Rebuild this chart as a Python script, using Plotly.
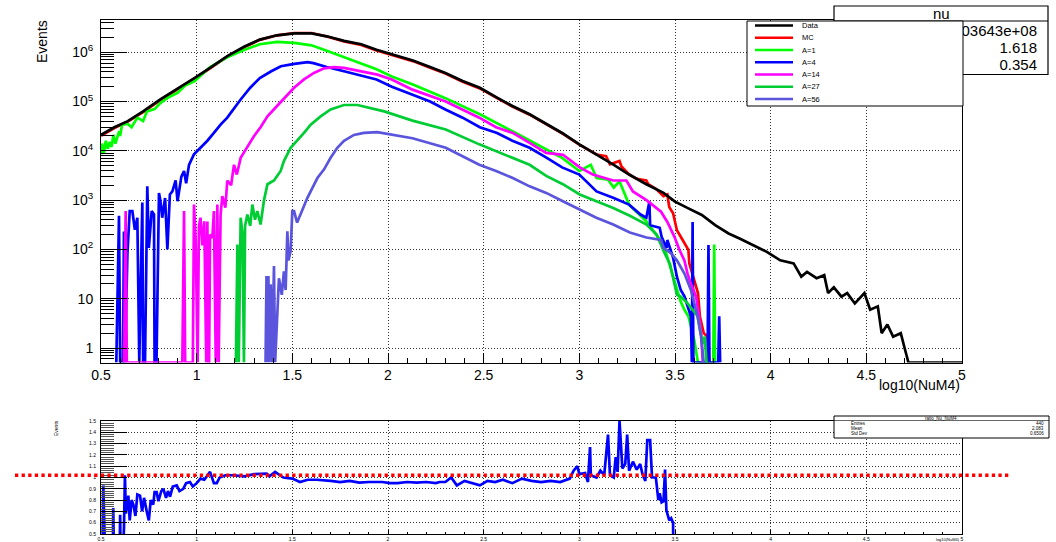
import math
import plotly.graph_objects as go

W, H = 1056, 542
FONT = "Liberation Sans, Arial, sans-serif"

# ---------------- upper pad: Events per bin of log10(NuM4) ----------------
x_data = [0.50, 0.57, 0.64, 0.72, 0.81, 0.90, 0.99, 1.07, 1.16, 1.25, 1.33, 1.42, 1.51,
          1.60, 1.68, 1.77, 1.86, 1.94, 2.04, 2.13, 2.22, 2.30, 2.39, 2.48, 2.57, 2.65,
          2.74, 2.83, 2.91, 3.00, 3.09, 3.18, 3.26, 3.35, 3.44, 3.50, 3.57, 3.64, 3.71,
          3.78, 3.84, 3.91, 3.98, 4.05, 4.12, 4.16, 4.19, 4.24, 4.28, 4.30, 4.33, 4.37,
          4.40, 4.44, 4.49, 4.52, 4.56, 4.58, 4.61, 4.64, 4.68, 4.70, 4.72, 5.00]
n_data = [2.1e4, 3.0e4, 4.0e4, 6.3e4, 1.1e5, 1.8e5, 3.0e5, 4.8e5, 8.3e5, 1.3e6, 1.8e6, 2.2e6, 2.4e6,
          2.4e6, 2.1e6, 1.7e6, 1.45e6, 1.12e6, 8.7e5, 6.8e5, 5.0e5, 3.8e5, 2.6e5, 1.9e5, 1.2e5, 8.1e4,
          5.5e4, 3.4e4, 2.3e4, 1.35e4, 8.5e3, 5.2e3, 3.3e3, 2.1e3, 1.4e3, 930, 680, 500, 310,
          210, 165, 123, 89, 60, 52, 28, 35, 26, 30, 13, 17, 11,
          13, 8, 13, 6, 7, 2, 3, 1.7, 2, 1, 0, 0]

x_mc = [0.50, 0.57, 0.64, 0.72, 0.81, 0.90, 0.99, 1.07, 1.16, 1.25, 1.33, 1.42, 1.51, 1.60,
        1.68, 1.77, 1.86, 1.94, 2.04, 2.13, 2.22, 2.30, 2.39, 2.48, 2.57, 2.65, 2.74, 2.83,
        2.91, 3.00, 3.09, 3.14, 3.16, 3.21, 3.22, 3.26, 3.30, 3.35, 3.36, 3.40, 3.44, 3.46,
        3.47, 3.49, 3.51, 3.54, 3.57, 3.575, 3.60, 3.62, 3.63, 3.65, 3.67, 3.68]
n_mc = [2.0e4, 2.9e4, 3.9e4, 6.1e4, 1.07e5, 1.75e5, 2.9e5, 4.7e5, 8.1e5, 1.27e6, 1.78e6, 2.2e6, 2.45e6, 2.45e6,
        2.08e6, 1.66e6, 1.4e6, 1.08e6, 8.4e5, 6.6e5, 4.85e5, 3.7e5, 2.52e5, 1.84e5, 1.17e5, 7.9e4, 5.4e4, 3.35e4,
        2.25e4, 1.33e4, 8.4e3, 7.8e3, 5.3e3, 6.2e3, 4.8e3, 3.3e3, 2.7e3, 2.5e3, 2.1e3, 1.7e3, 1.2e3, 1.3e3,
        720, 540, 245, 155, 98, 52, 25, 13, 4.4, 2, 1.7, 0]

x_a1 = [0.500, 0.505, 0.515, 0.525, 0.535, 0.545, 0.555, 0.565, 0.575, 0.585, 0.595, 0.600,
        0.61, 0.64, 0.66, 0.69, 0.72, 0.74, 0.78, 0.81, 0.85, 0.90, 0.94, 0.99, 1.07, 1.16,
        1.25, 1.33, 1.42, 1.51, 1.60, 1.68, 1.77, 1.86, 1.94, 2.02, 2.13, 2.30, 2.48, 2.65,
        2.83, 2.91, 3.00, 3.06, 3.09, 3.15, 3.18, 3.21, 3.26, 3.35, 3.44, 3.47, 3.51, 3.53,
        3.55, 3.57, 3.60, 3.62, 3.70, 3.705, 3.71]
n_a1 = [8.5e3, 1.4e4, 9e3, 1.6e4, 1.1e4, 1.5e4, 1.2e4, 2.1e4, 1.4e4, 1.9e4, 2.5e4, 2.0e4,
        3.4e4, 3.5e4, 3.0e4, 4.7e4, 4.0e4, 6.3e4, 7.0e4, 9.3e4, 1.2e5, 1.5e5, 2.1e5, 2.6e5, 5.0e5, 7.9e5,
        1.12e6, 1.45e6, 1.62e6, 1.55e6, 1.38e6, 1.07e6, 7.9e5, 6.0e5, 4.5e5, 3.2e5, 2.2e5, 1.17e5, 5.5e4, 2.5e4,
        1.07e4, 7.2e3, 3.9e3, 5.2e3, 2.8e3, 2.6e3, 1.8e3, 2.4e3, 810, 370, 126, 50, 14.5, 8.7,
        5.9, 4.4, 1.5, 0, 0, 126, 0]

x_a4 = [0.58, 0.594, 0.60, 0.615, 0.62, 0.625, 0.638, 0.65, 0.664, 0.677, 0.69, 0.70, 0.716,
        0.72, 0.73, 0.742, 0.75, 0.765, 0.777, 0.78, 0.79, 0.803, 0.81, 0.82, 0.835, 0.847,
        0.86, 0.873, 0.89, 0.90, 0.92, 0.934, 0.945, 0.96, 0.986, 1.02, 1.056, 1.09, 1.125,
        1.16, 1.195, 1.23, 1.28, 1.33, 1.39, 1.44, 1.51, 1.58, 1.61, 1.68, 1.77, 1.86, 1.94,
        2.02, 2.13, 2.22, 2.30, 2.39, 2.48, 2.57, 2.65, 2.74, 2.83, 2.91, 3.00, 3.09, 3.18,
        3.26, 3.32, 3.35, 3.366, 3.37, 3.42, 3.43, 3.456, 3.46, 3.49, 3.51, 3.53, 3.55, 3.566,
        3.583, 3.588, 3.592, 3.596, 3.67, 3.675, 3.68, 3.726, 3.731, 3.736]
n_a4 = [0, 480, 0, 0, 230, 0, 80, 600, 600, 250, 440, 0, 890,
        0, 0, 1.9e3, 107, 600, 510, 0, 0, 1.4e3, 1.0e3, 440, 1.1e3, 100,
        1.3e3, 1.5e3, 2.5e3, 950, 3.0e3, 3.9e3, 2.2e3, 5.2e3, 8.5e3, 1.15e4, 1.6e4, 2.3e4, 3.4e4,
        4.7e4, 7.4e4, 1.1e5, 1.9e5, 3.0e5, 4.1e5, 5.2e5, 5.8e5, 6.3e5, 6.0e5, 5.0e5, 4.1e5, 3.4e5, 2.8e5,
        2.0e5, 1.38e5, 1.0e5, 6.9e4, 4.7e4, 3.0e4, 2.3e4, 1.6e4, 1.15e4, 7.2e3, 4.6e3, 3.3e3, 1.5e3, 1.1e3,
        810, 510, 440, 930, 310, 275, 180, 107, 155, 68, 28, 15, 11, 7,
        4.4, 0, 360, 0, 0, 123, 0, 0, 4.4, 0]

x_a14 = [0.62, 0.629, 0.635, 0.925, 0.934, 0.94, 0.98, 0.986, 0.995, 1.005, 1.012, 1.02,
         1.03, 1.04, 1.05, 1.056, 1.06, 1.065, 1.07, 1.082, 1.09, 1.10, 1.108, 1.115, 1.125,
         1.134, 1.15, 1.16, 1.18, 1.195, 1.21, 1.23, 1.265, 1.30, 1.334, 1.37, 1.42, 1.474,
         1.509, 1.561, 1.613, 1.666, 1.718, 1.77, 1.857, 1.944, 2.02, 2.128, 2.302, 2.477,
         2.565, 2.652, 2.74, 2.827, 2.914, 3.002, 3.07, 3.177, 3.246, 3.28, 3.351, 3.427,
         3.46, 3.497, 3.523, 3.549, 3.566, 3.583, 3.61, 3.627, 3.636, 3.645]
n_a14 = [0, 600, 0, 0, 600, 0, 0, 810, 150, 0, 300, 440,
         120, 370, 0, 370, 0, 0, 200, 170, 600, 0, 810, 0, 500,
         1.2e3, 700, 2.5e3, 2.0e3, 5.2e3, 3.3e3, 7.2e3, 1.2e4, 2.0e4, 3.0e4, 5.0e4, 8.1e4, 1.4e5,
         1.9e5, 2.8e5, 3.8e5, 4.7e5, 5.0e5, 4.8e5, 4.1e5, 3.5e5, 2.8e5, 1.74e5, 1.0e5, 4.7e4,
         3.0e4, 2.3e4, 1.45e4, 9.1e3, 8.3e3, 4.6e3, 3.3e3, 2.5e3, 2.5e3, 1.5e3, 1.0e3, 580,
         360, 180, 98, 60, 32, 20, 11, 4.4, 2.3, 0]

x_a27 = [1.205, 1.213, 1.22, 1.23, 1.24, 1.247, 1.253, 1.265, 1.28, 1.291, 1.305, 1.317,
         1.334, 1.352, 1.37, 1.404, 1.439, 1.456, 1.491, 1.526, 1.561, 1.596, 1.648, 1.70,
         1.77, 1.84, 1.91, 1.98, 2.128, 2.302, 2.477, 2.652, 2.74, 2.827, 2.914, 3.002, 3.089,
         3.177, 3.264, 3.351, 3.404, 3.44, 3.474, 3.51, 3.53, 3.566, 3.618, 3.636, 3.645,
         3.655, 3.665]
n_a27 = [0, 126, 0, 440, 200, 0, 300, 510, 300, 810, 400, 600,
         320, 1.0e3, 2.1e3, 2.5e3, 3.9e3, 6.2e3, 1.15e4, 1.6e4, 2.3e4, 3.4e4, 5.0e4, 6.9e4,
         8.5e4, 8.5e4, 7.4e4, 6.3e4, 4.1e4, 2.7e4, 1.35e4, 7.2e3, 5.2e3, 3.1e3, 2.1e3, 1.3e3, 950,
         690, 480, 320, 200, 93, 50, 12, 11, 8, 4.4, 1.7, 1.2,
         1.7, 0]

x_a56 = [1.36, 1.365, 1.37, 1.375, 1.38, 1.387, 1.395, 1.404, 1.41, 1.43, 1.445, 1.456,
         1.465, 1.474, 1.48, 1.491, 1.50, 1.509, 1.525, 1.544, 1.561, 1.578, 1.605, 1.631,
         1.666, 1.70, 1.735, 1.77, 1.822, 1.874, 1.944, 2.02, 2.128, 2.302, 2.477, 2.565,
         2.652, 2.74, 2.827, 2.914, 3.002, 3.089, 3.177, 3.264, 3.351, 3.427, 3.44, 3.48,
         3.51, 3.55, 3.583, 3.618, 3.636, 3.65]
n_a56 = [0, 29, 0, 29, 0, 19.5, 0, 46, 0, 26, 12, 36,
         15, 234, 60, 93, 600, 600, 350, 510, 760, 1.1e3, 1.8e3, 2.8e3,
         4.2e3, 7.2e3, 1.15e4, 1.6e4, 2.1e4, 2.3e4, 2.4e4, 2.1e4, 1.8e4, 1.15e4, 5.2e3, 3.9e3,
         2.8e3, 1.9e3, 1.4e3, 950, 650, 440, 320, 220, 174, 155, 107, 83,
         60, 32, 15, 4.4, 1.7, 0]

# ---------------- lower pad: ratio histogram ----------------
x_ratio = [0.505, 0.512, 0.518, 0.525, 0.56, 0.564, 0.57, 0.595, 0.60, 0.605, 0.62, 0.625,
           0.63, 0.643, 0.65, 0.66, 0.669, 0.68, 0.69, 0.704, 0.715, 0.725, 0.739, 0.75,
           0.76, 0.773, 0.78, 0.791, 0.80, 0.815, 0.826, 0.84, 0.85, 0.861, 0.875, 0.896,
           0.91, 0.93, 0.945, 0.965, 0.98, 1.00, 1.02, 1.04, 1.07, 1.09, 1.105, 1.12, 1.15,
           1.19, 1.25, 1.30, 1.366, 1.38, 1.41, 1.453, 1.50, 1.54, 1.58, 1.627, 1.70, 1.75,
           1.80, 1.85, 1.90, 1.97, 2.01, 2.05, 2.10, 2.15, 2.20, 2.25, 2.27, 2.30, 2.33, 2.36,
           2.40, 2.44, 2.48, 2.52, 2.56, 2.60, 2.65, 2.70, 2.75, 2.80, 2.85, 2.90, 2.95, 2.97,
           2.99, 3.00, 3.03, 3.045, 3.056, 3.06, 3.09, 3.11, 3.13, 3.15, 3.16, 3.18, 3.19,
           3.20, 3.21, 3.225, 3.24, 3.25, 3.26, 3.28, 3.30, 3.318, 3.33, 3.345, 3.355, 3.37,
           3.38, 3.40, 3.413, 3.42, 3.43, 3.44, 3.448, 3.455, 3.47, 3.48, 3.49, 3.492]
r_ratio = [0, 0.93, 0.55, 0, 0, 0.73, 0, 0, 0.67, 0, 0.55, 1.02,
           0.68, 0.84, 0.62, 0.80, 0.76, 0.66, 0.85, 0.84, 0.70, 0.82, 0.70, 0.62,
           0.80, 0.76, 0.87, 0.87, 0.79, 0.88, 0.90, 0.82, 0.88, 0.83, 0.92, 0.93,
           0.88, 0.90, 0.95, 0.96, 0.92, 0.95, 0.99, 0.98, 1.05, 0.95, 0.95, 1.00, 1.02,
           1.02, 1.01, 1.03, 1.035, 1.01, 1.05, 1.00, 0.99, 0.96, 0.98, 0.98, 0.97, 0.96,
           0.97, 0.955, 0.96, 0.96, 0.95, 0.95, 0.96, 0.955, 0.96, 0.95, 0.96, 0.96, 1.00, 0.93,
           0.97, 0.95, 0.93, 0.97, 0.96, 0.98, 0.95, 0.99, 0.97, 0.96, 0.97, 0.96, 0.99, 1.06,
           1.10, 1.03, 1.04, 0.96, 1.27, 1.02, 1.00, 1.06, 1.02, 1.38, 1.02, 1.00, 1.18,
           1.05, 1.50, 1.08, 1.12, 1.38, 1.06, 1.14, 1.07, 1.12, 1.03, 0.97, 1.33, 1.33,
           1.00, 1.00, 0.80, 0.86, 0.78, 0.79, 1.07, 0.71, 0.62, 0.64, 0.60, 0]
RATIO_REF = 1.02

# ---------------- labels ----------------
legend_names = ["Data", "MC", "A=1", "A=4", "A=14", "A=27", "A=56"]
legend_colors = ["#000000", "#ff0000", "#00ff00", "#0000ff", "#ff00ff", "#00cc33", "#5a55dc"]
stats_main_title = "nu"
stats_main_rows = [("Entries", "1.03643e+08"), ("Mean", "1.618"), ("Std Dev", "0.354")]
stats_ratio_title = "ratio_Nu_NuM4"
stats_ratio_rows = [("Entries", "440"), ("Mean", "2.083"), ("Std Dev", "0.6506")]
x_title = "log10(NuM4)"
y_title = "Events"

LOG_YMIN, LOG_YMAX = -0.294, 6.653
Y_FLOOR = 10 ** LOG_YMIN  # empty bins sit on the frame bottom

# pad geometry in pixels
PX_L, PX_R = 101, 962
TOP_T, TOP_B = 20, 362.5
BOT_T, BOT_B = 421, 534


def px2paper_x(px):
    return px / W


def px2paper_y(py):
    return 1 - py / H


fig = go.Figure()

series = {
    "MC": (x_mc, n_mc),
    "A=1": (x_a1, n_a1),
    "A=4": (x_a4, n_a4),
    "A=14": (x_a14, n_a14),
    "A=27": (x_a27, n_a27),
    "A=56": (x_a56, n_a56),
    "Data": (x_data, n_data),
}
color_of = dict(zip(legend_names, legend_colors))
for name, (xs, ns) in series.items():
    fig.add_trace(go.Scatter(
        x=xs, y=[v if v > 0 else Y_FLOOR for v in ns], mode="lines", name=name,
        line=dict(color=color_of[name], width=2.7), xaxis="x", yaxis="y",
        showlegend=False, hoverinfo="skip"))

fig.add_trace(go.Scatter(
    x=x_ratio, y=r_ratio, mode="lines", line=dict(color="#0000ff", width=2.7),
    xaxis="x2", yaxis="y2", showlegend=False, hoverinfo="skip"))

# stats box text of the upper pad (sits under the legend box)
st_y = [32, 49, 66]
fig.add_trace(go.Scatter(
    x=[1037] * 3, y=st_y, text=[r[1] for r in stats_main_rows], mode="text",
    textposition="middle left", textfont=dict(family=FONT, size=15, color="black"),
    xaxis="x3", yaxis="y3", cliponaxis=False, showlegend=False, hoverinfo="skip"))
fig.add_trace(go.Scatter(
    x=[842] * 3, y=st_y, text=[r[0] for r in stats_main_rows], mode="text",
    textposition="middle right", textfont=dict(family=FONT, size=15, color="black"),
    xaxis="x3", yaxis="y3", cliponaxis=False, showlegend=False, hoverinfo="skip"))

major_y = [1, 10, 1e2, 1e3, 1e4, 1e5, 1e6]
major_y_text = ["1", "10", "10<sup>2</sup>", "10<sup>3</sup>", "10<sup>4</sup>",
                "10<sup>5</sup>", "10<sup>6</sup>"]
minor_y = [k * 10 ** e for e in range(-1, 7) for k in range(2, 10)
           if LOG_YMIN < e + math.log10(k) < LOG_YMAX]

dom_x = [px2paper_x(PX_L), px2paper_x(PX_R)]
grid = dict(showgrid=True, gridcolor="#333333", griddash="1px,2px", gridwidth=1)
frame = dict(showline=True, linecolor="black", linewidth=1, mirror=True, zeroline=False,
             tickcolor="black", ticks="inside", automargin=False)

fig.update_layout(
    template="none",
    width=W, height=H, margin=dict(l=0, r=0, t=0, b=0, pad=0, autoexpand=False),
    paper_bgcolor="white", plot_bgcolor="rgba(0,0,0,0)",
    font=dict(family=FONT, color="black"),
    xaxis=dict(domain=dom_x, anchor="y", range=[0.5, 5], tickmode="linear", tick0=0.5, dtick=0.5,
               ticklen=10, tickfont=dict(size=14), **frame, **grid,
               minor=dict(tick0=0.5, dtick=0.1, ticks="inside", ticklen=5, tickcolor="black",
                          showgrid=False)),
    yaxis=dict(domain=[px2paper_y(TOP_B), px2paper_y(TOP_T)], anchor="x", type="log",
               range=[LOG_YMIN, LOG_YMAX], tickmode="array", tickvals=major_y, ticktext=major_y_text,
               ticklen=26, tickfont=dict(size=14), ticklabelstandoff=4, **frame, **grid,
               minor=dict(tickmode="array", tickvals=minor_y, ticks="inside", ticklen=13,
                          tickcolor="black", showgrid=False)),
    xaxis2=dict(domain=dom_x, anchor="y2", range=[0.5, 5], tickmode="linear", tick0=0.5, dtick=0.5,
                ticklen=4, tickfont=dict(size=5), **frame, **grid,
                minor=dict(tick0=0.5, dtick=0.1, ticks="inside", ticklen=2, tickcolor="black",
                           showgrid=False)),
    yaxis2=dict(domain=[px2paper_y(BOT_B), px2paper_y(BOT_T)], anchor="x2", range=[0.5, 1.5],
                tickmode="linear", tick0=0.5, dtick=0.1, ticklen=26, tickfont=dict(size=5),
                ticklabelstandoff=3, **frame, **grid,
                minor=dict(tick0=0.5, dtick=0.02, ticks="inside", ticklen=13, tickcolor="#555555",
                           showgrid=False)),
    xaxis3=dict(domain=[0, 1], range=[0, W], visible=False, fixedrange=True, anchor="y3",
                automargin=False),
    yaxis3=dict(domain=[0, 1], range=[H, 0], visible=False, fixedrange=True, anchor="x3",
                automargin=False),
)

shapes = []
ann = []
# upper stats box
shapes.append(dict(type="rect", xref="x3", yref="y3", x0=834, x1=1048, y0=6, y1=74.5,
                   line=dict(color="black", width=1.2), fillcolor="white", layer="below"))
shapes.append(dict(type="line", xref="x3", yref="y3", x0=834, x1=1048, y0=21, y1=21,
                   line=dict(color="black", width=1.2), layer="below"))
ann.append(dict(x=941, y=13.5, xref="x3", yref="y3", text=stats_main_title, showarrow=False,
                font=dict(size=15)))

# legend box
shapes.append(dict(type="rect", xref="x3", yref="y3", x0=747, x1=963, y0=21, y1=106,
                   line=dict(color="black", width=1), fillcolor="white", layer="above"))
for i, (name, col) in enumerate(zip(legend_names, legend_colors)):
    yy = 25.5 + i * 12.25
    shapes.append(dict(type="line", xref="x3", yref="y3", x0=755, x1=793, y0=yy, y1=yy,
                       line=dict(color=col, width=2.3), layer="above"))
    ann.append(dict(x=800, y=yy, xref="x3", yref="y3", text=name, showarrow=False,
                    xanchor="left", yanchor="middle", font=dict(size=7.5)))

# lower stats box
shapes.append(dict(type="rect", xref="x3", yref="y3", x0=834, x1=1049, y0=416, y1=438,
                   line=dict(color="black", width=1), fillcolor="white", layer="above"))
shapes.append(dict(type="line", xref="x3", yref="y3", x0=834, x1=1049, y0=420.5, y1=420.5,
                   line=dict(color="black", width=0.6), layer="above"))
ann.append(dict(x=941, y=418.2, xref="x3", yref="y3", text=stats_ratio_title, showarrow=False,
                font=dict(size=4.5)))
for i, (lab, val) in enumerate(stats_ratio_rows):
    yy = 423 + i * 5.2
    ann.append(dict(x=849, y=yy, xref="x3", yref="y3", text=lab, showarrow=False,
                    xanchor="left", font=dict(size=4.5)))
    ann.append(dict(x=1046, y=yy, xref="x3", yref="y3", text=val, showarrow=False,
                    xanchor="right", font=dict(size=4.5)))

# reference line across the ratio pad
shapes.append(dict(type="line", xref="x3", yref="y2", x0=15, x1=1009, y0=RATIO_REF, y1=RATIO_REF,
                   line=dict(color="#ff0000", width=3.3, dash="dot"), layer="above"))

# axis titles
ann.append(dict(x=42, y=42, xref="x3", yref="y3", text=y_title, textangle=-90, showarrow=False,
                font=dict(size=14)))
ann.append(dict(x=962, y=385, xref="x3", yref="y3", text=x_title, showarrow=False,
                xanchor="right", font=dict(size=14)))
ann.append(dict(x=56, y=428, xref="x3", yref="y3", text=y_title, textangle=-90, showarrow=False,
                font=dict(size=5)))
ann.append(dict(x=962, y=539.5, xref="x3", yref="y3", text=x_title, showarrow=False,
                xanchor="right", font=dict(size=4)))

fig.update_layout(shapes=shapes, annotations=ann)
fig.write_html("out.html")
